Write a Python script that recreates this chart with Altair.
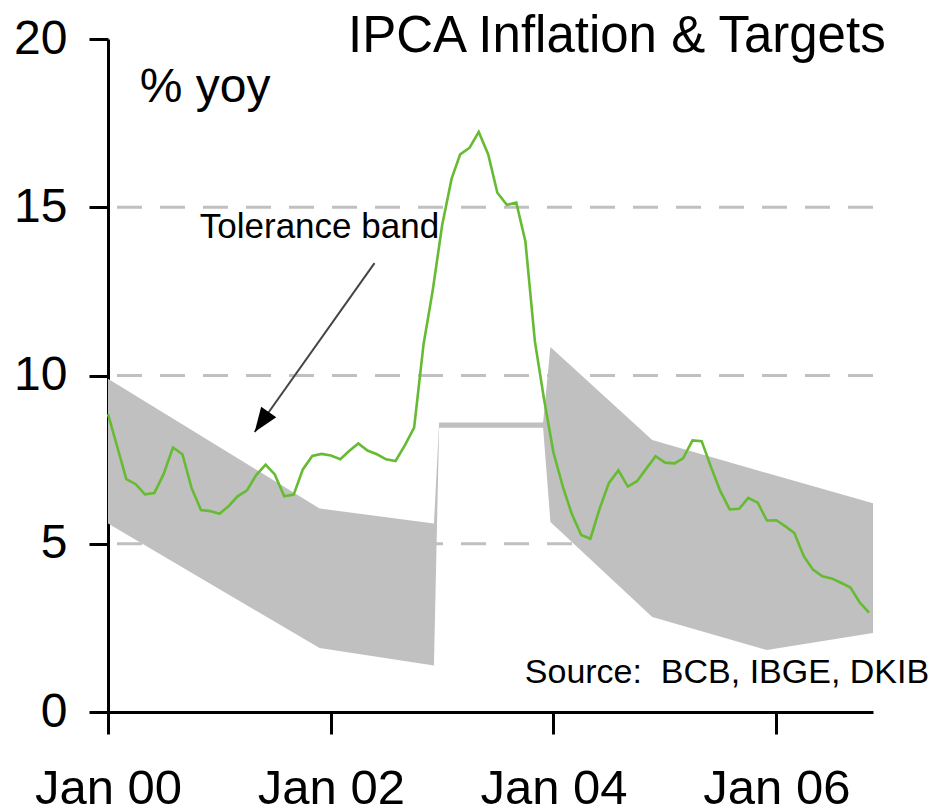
import altair as alt
import pandas as pd

# ---- data -----------------------------------------------------------------
months = pd.date_range("2000-01-01", "2006-11-01", freq="MS")
ipca = [8.85, 7.86, 6.92, 6.77, 6.47, 6.51, 7.06, 7.86, 7.66, 6.66, 6.00, 5.97,
        5.89, 6.13, 6.41, 6.59, 7.04, 7.35, 7.06, 6.41, 6.46, 7.21, 7.61, 7.67,
        7.62, 7.51, 7.75, 7.98, 7.77, 7.66, 7.51, 7.46, 7.93, 8.45, 10.93, 12.53,
        14.47, 15.85, 16.57, 16.77, 17.24, 16.57, 15.43, 15.07, 15.14, 13.98, 11.02, 9.30,
        7.71, 6.69, 5.89, 5.26, 5.15, 6.06, 6.81, 7.18, 6.70, 6.86, 7.24, 7.60,
        7.41, 7.39, 7.54, 8.07, 8.05, 7.27, 6.57, 6.02, 6.04, 6.36, 6.22, 5.69,
        5.70, 5.51, 5.32, 4.63, 4.23, 4.03, 3.97, 3.84, 3.70, 3.26, 2.95]

band_dates = ["2000-01-01", "2001-11-25", "2002-12-05", "2002-12-22", "2003-11-28",
              "2003-12-22", "2004-11-20", "2005-12-01", "2006-11-14"]
band_lo = [5.6, 1.9, 1.38, 8.45, 8.45, 5.65, 2.82, 1.84, 2.35]
band_hi = [9.9, 6.05, 5.6, 8.6, 8.6, 10.85, 8.08, 7.1, 6.2]

grid_levels = [5, 10, 15]
tick_years = [2000, 2002, 2004, 2006]

# annotations (positions in data coordinates)
ann_text = ["IPCA Inflation & Targets", "% yoy", "Tolerance band", "Source:\u00a0 BCB, IBGE, DKIB"]
ann_date = ["2002-02-26", "2000-04-14", "2000-10-28", "2003-09-29"]
ann_val = [19.61, 18.13, 14.09, 0.86]
ann_size = [51, 48, 35, 34]

arrow_from = ("2002-05-24", 13.34)
arrow_to = ("2001-04-26", 8.32)
arrow_head = ("2001-05-19", 8.62)

# ---- frames ---------------------------------------------------------------
line_df = pd.DataFrame({"date": months, "value": ipca})
band_df = pd.DataFrame({"date": pd.to_datetime(band_dates), "lo": band_lo, "hi": band_hi})
grid_df = pd.DataFrame({"level": grid_levels})
ann_df = pd.DataFrame({"date": pd.to_datetime(ann_date), "value": ann_val,
                       "text": ann_text, "size": ann_size})
arrow_df = pd.DataFrame({"d1": [pd.Timestamp(arrow_from[0])], "v1": [arrow_from[1]],
                         "d2": [pd.Timestamp(arrow_to[0])], "v2": [arrow_to[1]]})
head_df = pd.DataFrame({"date": [pd.Timestamp(arrow_head[0])], "value": [arrow_head[1]]})

FONT = "Liberation Sans"

xscale = alt.Scale(domain=[alt.DateTime(year=2000, month=1, date=1),
                           alt.DateTime(year=2006, month=11, date=14)])
yscale = alt.Scale(domain=[0, 20], nice=False)

xaxis = alt.Axis(values=[alt.DateTime(year=y, month=1, date=1) for y in tick_years],
                 format="%b %y", title=None, grid=False,
                 labelFont=FONT, labelFontSize=49, labelColor="black",
                 labelPadding=30, labelFlush=False,
                 tickSize=22, tickWidth=3, tickColor="black",
                 domainColor="black", domainWidth=3)
yaxis = alt.Axis(values=[0, 5, 10, 15, 20], title=None, grid=False,
                 labelFont=FONT, labelFontSize=48, labelColor="black",
                 labelPadding=22, tickSize=19, tickWidth=3, tickColor="black",
                 domainColor="black", domainWidth=3)

grid = alt.Chart(grid_df).mark_rule(color="#c0c0c0", strokeWidth=3,
                                    strokeDash=[25, 18]).encode(
    y=alt.Y("level:Q", scale=yscale, axis=yaxis)
)

band = alt.Chart(band_df).mark_area(color="#c0c0c0", opacity=1, interpolate="linear").encode(
    x=alt.X("date:T", scale=xscale, axis=xaxis),
    y=alt.Y("lo:Q", scale=yscale),
    y2="hi:Q",
)

line = alt.Chart(line_df).mark_line(color="#66bb33", strokeWidth=2.6).encode(
    x=alt.X("date:T", scale=xscale),
    y=alt.Y("value:Q", scale=yscale),
)

arrow = alt.Chart(arrow_df).mark_rule(color="#444444", strokeWidth=2).encode(
    x=alt.X("d1:T", scale=xscale), y=alt.Y("v1:Q", scale=yscale),
    x2="d2:T", y2="v2:Q",
)

head = alt.Chart(head_df).mark_point(
    shape="M0,-1L0.75,1L-0.75,1Z", filled=True, color="black", opacity=1,
    size=600, angle=215, strokeWidth=0,
).encode(
    x=alt.X("date:T", scale=xscale), y=alt.Y("value:Q", scale=yscale),
)

texts = alt.Chart(ann_df).mark_text(align="left", baseline="alphabetic",
                                    font=FONT, color="black").encode(
    x=alt.X("date:T", scale=xscale), y=alt.Y("value:Q", scale=yscale),
    text="text:N",
    size=alt.Size("size:Q", scale=None, legend=None),
)

chart = alt.layer(grid, band, line, arrow, head, texts).properties(
    width=765, height=673,
    autosize=alt.AutoSizeParams(type="none"),
    padding={"left": 100, "top": 31, "right": 70, "bottom": 97},
).configure_view(stroke=None)

chart.save("out.html", embed_options={"renderer": "svg", "actions": False})
